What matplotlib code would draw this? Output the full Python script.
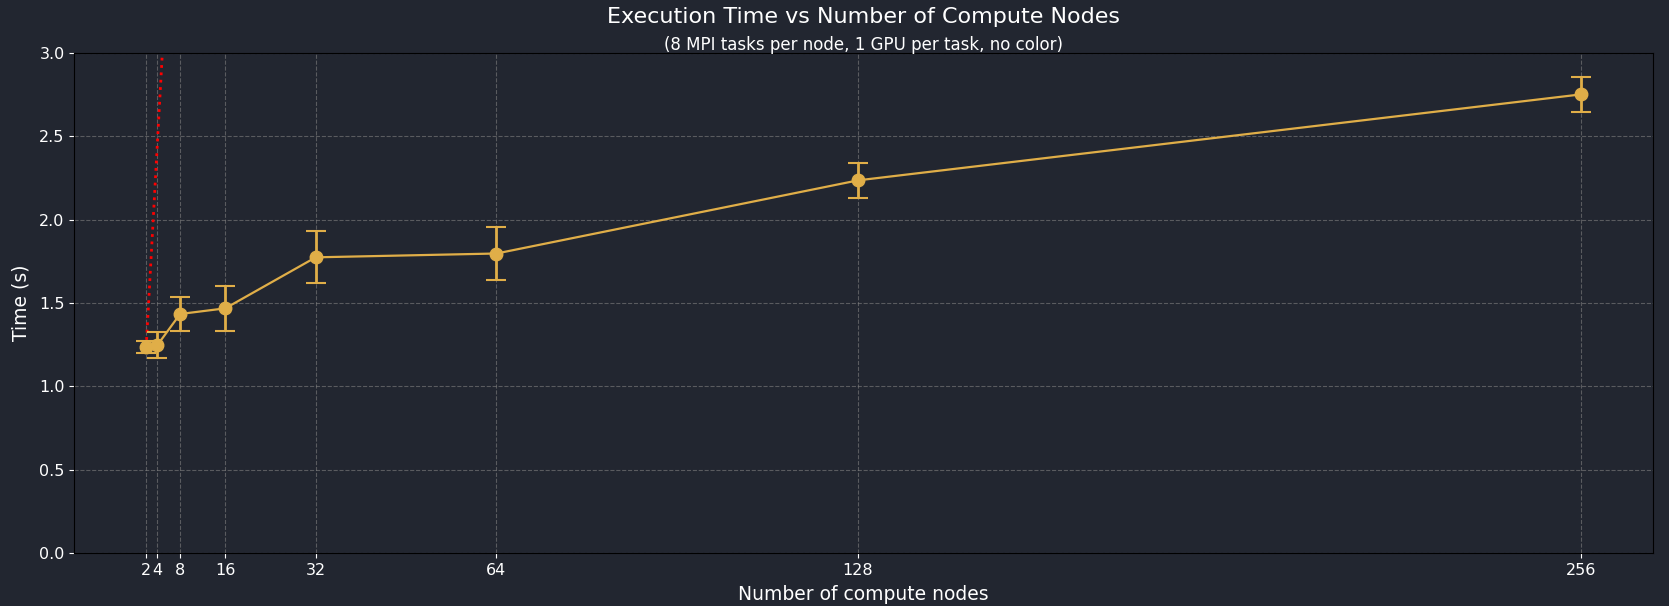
import matplotlib
matplotlib.use("Agg")
import matplotlib.pyplot as plt
import numpy as np

# ===========================
# Data
# ===========================
nodes = [2, 4, 8, 16, 32, 64, 128, 256]
times = [1.235, 1.248, 1.434, 1.468, 1.774, 1.797, 2.236, 2.752]
errors = [0.038, 0.078, 0.102, 0.137, 0.156, 0.157, 0.105, 0.103]

BG = "#222630"
GOLD = "#e0ae48"

# ideal (linear) scaling from the first point
ideal = [times[0] * n / nodes[0] for n in nodes]

fig, ax = plt.subplots(figsize=(16.69, 6.06), dpi=100)
fig.patch.set_facecolor(BG)
ax.set_facecolor(BG)

ax.plot(nodes, ideal, color="red", linestyle=":", linewidth=2, zorder=2)
ax.errorbar(nodes, times, yerr=errors, color=GOLD, marker="o", markersize=9,
            linewidth=1.6, elinewidth=2, capsize=7, capthick=1.5, zorder=3)

ax.set_ylim(0, 3.0)
ax.set_xticks(nodes)
ax.set_xticklabels([str(n) for n in nodes])
span = nodes[-1] - nodes[0]
ax.set_xlim(nodes[0] - 0.05 * span, nodes[-1] + 0.05 * span)

left, right, top, bottom = 0.0446, 0.9904, 0.9125, 0.0875
xc = (left + right) / 2
fig.text(xc, 1 - 17 / 606, "Execution Time vs Number of Compute Nodes",
         color="white", fontsize=16, ha="center", va="center")
fig.text(xc, 1 - 45 / 606, "(8 MPI tasks per node, 1 GPU per task, no color)",
         color="white", fontsize=12, ha="center", va="center")
ax.set_xlabel("Number of compute nodes", color="white", fontsize=13.5, labelpad=5)
ax.set_ylabel("Time (s)", color="white", fontsize=13.5, labelpad=6)

ax.grid(True, linestyle="--", color="gray", alpha=0.6, linewidth=0.8)
ax.tick_params(colors="white", which="both", labelsize=11.5)
for s in ax.spines.values():
    s.set_color("black")

plt.subplots_adjust(left=left, right=right, top=top, bottom=bottom)
plt.savefig("out.png", facecolor=BG)
plt.close()
